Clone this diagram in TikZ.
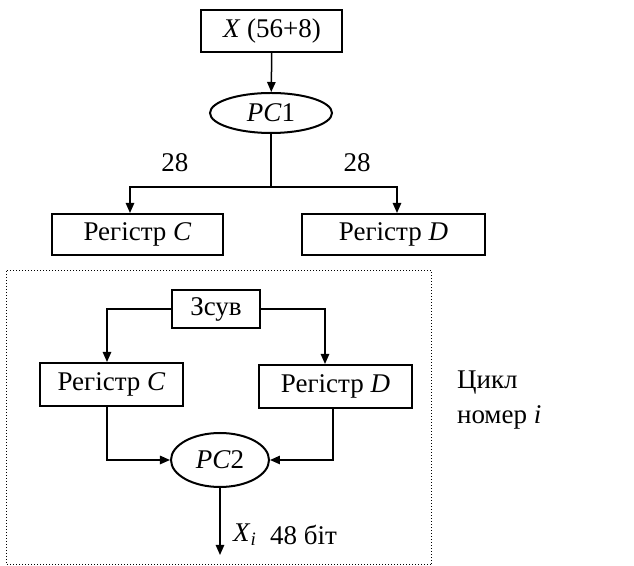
\documentclass[tikz,border=0pt]{standalone}
\usepackage{fontspec}
\setmainfont{Liberation Serif}
\usetikzlibrary{arrows.meta,shapes.geometric}

\begin{document}
\begin{tikzpicture}[x=0.5pt, y=-0.5pt,
    font=\fontsize{13.5}{15}\selectfont,
    box/.style={draw, line width=1pt, inner sep=0pt},
    oval/.style={draw, ellipse, line width=1pt, inner sep=0pt},
    arr/.style={line width=0.75pt, -{Triangle[length=5pt,width=4.2pt]}}]
    \useasboundingbox (0,0) rectangle (634,566);

    % initial permutation
    \node[box, minimum width=70.5pt, minimum height=21pt] (x) at (272,31) {\textit{X} (56+8)};
    \node[oval, minimum width=61pt, minimum height=20pt] (pc1) at (271,113) {\textit{PC}1};
    \coordinate (split) at (271,187);
    \node[box, minimum width=85.5pt, minimum height=20.5pt] (regc) at (137.5,234.5) {Регістр \textit{C}};
    \node[box, minimum width=91.5pt, minimum height=20.5pt] (regd) at (393.5,234.5) {Регістр \textit{D}};
    \node (nc) at (175,163) {28};
    \node (nd) at (357,163) {28};

    \draw[arr] (x) -- (pc1);
    \draw[line width=0.75pt] (pc1.south) -- (split);
    \draw[arr] (split) -| ([xshift=-3.75pt]regc.north);
    \draw[arr] (split) -| ([xshift=1.75pt]regd.north);

    % one round
    \draw[densely dotted, line width=0.5pt] (7,271) rectangle (432,565);
    \node[box, minimum width=44pt, minimum height=19pt] (shift) at (216,309) {Зсув};
    \node[box, minimum width=71.5pt, minimum height=21.5pt] (regc2) at (111.5,384.5) {Регістр \textit{C}};
    \node[box, minimum width=76.5pt, minimum height=21.5pt] (regd2) at (335.5,386.5) {Регістр \textit{D}};
    \node[oval, minimum width=49pt, minimum height=27pt] (pc2) at (220,460) {\textit{PC}2};
    \coordinate (out) at (220,555);

    \draw[arr] (shift.west) -| ([xshift=-2.25pt]regc2.north);
    \draw[arr] (shift.east) -| ([xshift=-5.25pt]regd2.north);
    \draw[arr] ([xshift=-2.25pt]regc2.south) |- (pc2.west);
    \draw[arr] ([xshift=-1.25pt]regd2.south) |- (pc2.east);
    \draw[arr] (pc2) -- (out);

    \node (xi) at (245,535) {\textit{X}\textsubscript{\textit{i}}};
    \node[anchor=west] (bits) at (263,535) {48 біт};
    \node[anchor=west] (cycle) at (450,383) {Цикл};
    \node[anchor=west] (num) at (450,417) {номер \textit{i}};
\end{tikzpicture}
\end{document}
